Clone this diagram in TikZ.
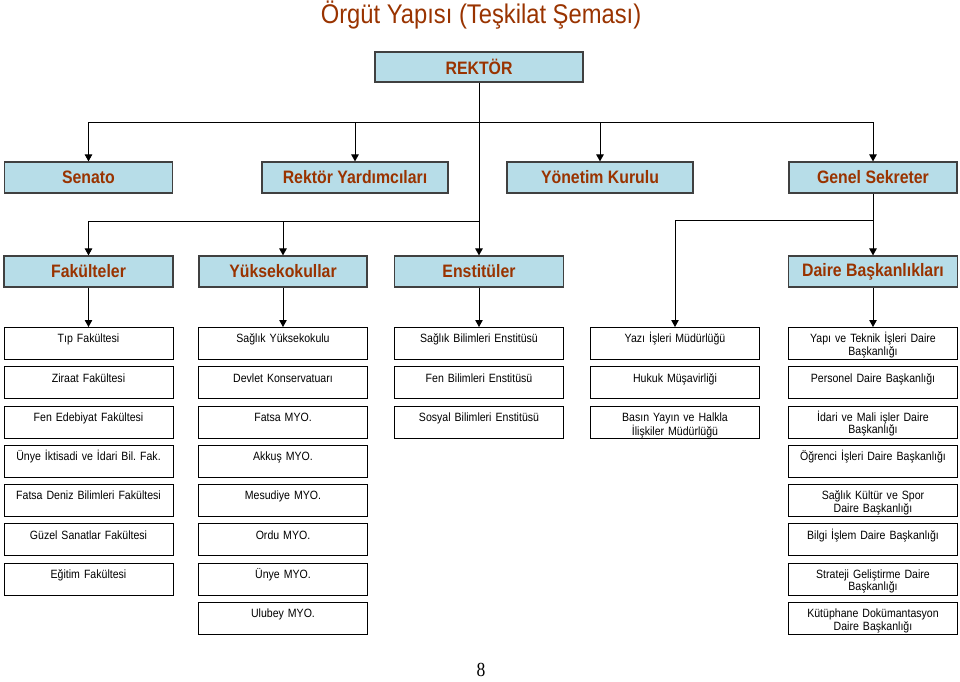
\documentclass[tikz,border=0pt]{standalone}
\usepackage{fontspec}
\setmainfont{Liberation Sans}
\newfontfamily\narrowsans[FakeStretch=0.88]{Liberation Sans}
\newfontfamily\narrowserif[FakeStretch=0.88]{Liberation Serif}
\usetikzlibrary{arrows.meta, positioning}
\frenchspacing

\definecolor{headblue}{RGB}{183,221,232}
\definecolor{headbrown}{RGB}{153,51,0}
\definecolor{headedge}{RGB}{64,64,64}

\begin{document}
\begin{tikzpicture}[
    x=1pt, y=-1pt,
    node distance={6.45pt},
    head/.style = {
        draw=headedge,
        line width=1.2pt,
        fill=headblue,
        text=headbrown,
        font=\narrowsans\bfseries\fontsize{18}{20}\selectfont,
        minimum height=31pt,
        inner sep=0pt
    },
    unit/.style = {
        draw,
        line width=0.8pt,
        fill=white,
        font=\narrowsans\fontsize{12}{12.5}\selectfont,
        text width=160pt,
        align=center,
        inner xsep=4.5pt,
        inner ysep=0pt,
        text height=15.5pt,
        text depth=16.5pt
    },
    myarrow/.style={
        line width=0.9pt,
        -{Triangle[length=7pt,width=7.5pt]}
    }
]
  \useasboundingbox (0,0) rectangle (960,681);

  \node[font=\narrowsans\fontsize{27}{30}\selectfont, text=headbrown] (title) at (481,15) {Örgüt Yapısı (Teşkilat Şeması)};

  \node[head, minimum width=208pt, minimum height=30pt] (rektor) at (479,67) {REKTÖR};

  \node[head, minimum width=168pt] (senato) at (88.5,177.5) {Senato};
  \node[head, minimum width=186pt] (ryard) at (355,177.5) {Rektör Yardımcıları};
  \node[head, minimum width=186pt] (yonetim) at (600,177.5) {Yönetim Kurulu};
  \node[head, minimum width=168pt] (gsek) at (873,177.5) {Genel Sekreter};

  \node[head, minimum width=169pt] (fak) at (88.5,271.5) {Fakülteler};
  \node[head, minimum width=168pt] (yuksek) at (283,271.5) {Yüksekokullar};
  \node[head, minimum width=169pt] (enst) at (479,271.5) {Enstitüler};
  \node[head, minimum width=169pt] (daire) at (873,271.5) {Daire Başkanlıkları};

  % faculties
  \node[unit, anchor=north] (f1) at (88.5,327) {Tıp Fakültesi};
  \node[unit] (f2) [below=of f1] {Ziraat Fakültesi};
  \node[unit] (f3) [below=of f2] {Fen Edebiyat Fakültesi};
  \node[unit] (f4) [below=of f3] {Ünye İktisadi ve İdari Bil. Fak.};
  \node[unit] (f5) [below=of f4] {Fatsa Deniz Bilimleri Fakültesi};
  \node[unit] (f6) [below=of f5] {Güzel Sanatlar Fakültesi};
  \node[unit] (f7) [below=of f6] {Eğitim Fakültesi};

  % schools
  \node[unit, anchor=north] (y1) at (283,327) {Sağlık Yüksekokulu};
  \node[unit] (y2) [below=of y1] {Devlet Konservatuarı};
  \node[unit] (y3) [below=of y2] {Fatsa MYO.};
  \node[unit] (y4) [below=of y3] {Akkuş MYO.};
  \node[unit] (y5) [below=of y4] {Mesudiye MYO.};
  \node[unit] (y6) [below=of y5] {Ordu MYO.};
  \node[unit] (y7) [below=of y6] {Ünye MYO.};
  \node[unit] (y8) [below=of y7] {Ulubey MYO.};

  % institutes
  \node[unit, anchor=north] (e1) at (479,327) {Sağlık Bilimleri Enstitüsü};
  \node[unit] (e2) [below=of e1] {Fen Bilimleri Enstitüsü};
  \node[unit] (e3) [below=of e2] {Sosyal Bilimleri Enstitüsü};

  % offices
  \node[unit, anchor=north] (m1) at (675,327) {Yazı İşleri Müdürlüğü};
  \node[unit] (m2) [below=of m1] {Hukuk Müşavirliği};
  \node[unit] (m3) [below=of m2] {Basın Yayın ve Halkla\\İlişkiler Müdürlüğü};

  % departments
  \node[unit, anchor=north] (d1) at (873,327) {Yapı ve Teknik İşleri Daire\\Başkanlığı};
  \node[unit] (d2) [below=of d1] {Personel Daire Başkanlığı};
  \node[unit] (d3) [below=of d2] {İdari ve Mali işler Daire\\Başkanlığı};
  \node[unit] (d4) [below=of d3] {Öğrenci İşleri Daire Başkanlığı};
  \node[unit] (d5) [below=of d4] {Sağlık Kültür ve Spor\\Daire Başkanlığı};
  \node[unit] (d6) [below=of d5] {Bilgi İşlem Daire Başkanlığı};
  \node[unit] (d7) [below=of d6] {Strateji Geliştirme Daire\\Başkanlığı};
  \node[unit] (d8) [below=of d7] {Kütüphane Dokümantasyon\\Daire Başkanlığı};

  \node[font=\narrowserif\fontsize{20}{22}\selectfont, inner sep=1pt] (page) at (481,670) {8};

  \coordinate (bus1) at (479,122);
  \coordinate (bus2) at (479,221);
  \coordinate (bus3) at (873,220);

  \draw[myarrow] (rektor) -- (enst);
  \draw[myarrow] (bus1) -| (senato);
  \draw[myarrow] (bus1) -| (ryard);
  \draw[myarrow] (bus1) -| (yonetim);
  \draw[myarrow] (bus1) -| (gsek);
  \draw[myarrow] (bus2) -| (fak);
  \draw[myarrow] (bus2) -| (yuksek);
  \draw[myarrow] (gsek) -- (daire);
  \draw[myarrow] (bus3) -| (m1);
  \draw[myarrow] (fak) -- (f1);
  \draw[myarrow] (yuksek) -- (y1);
  \draw[myarrow] (enst) -- (e1);
  \draw[myarrow] (daire) -- (d1);
\end{tikzpicture}
\end{document}
